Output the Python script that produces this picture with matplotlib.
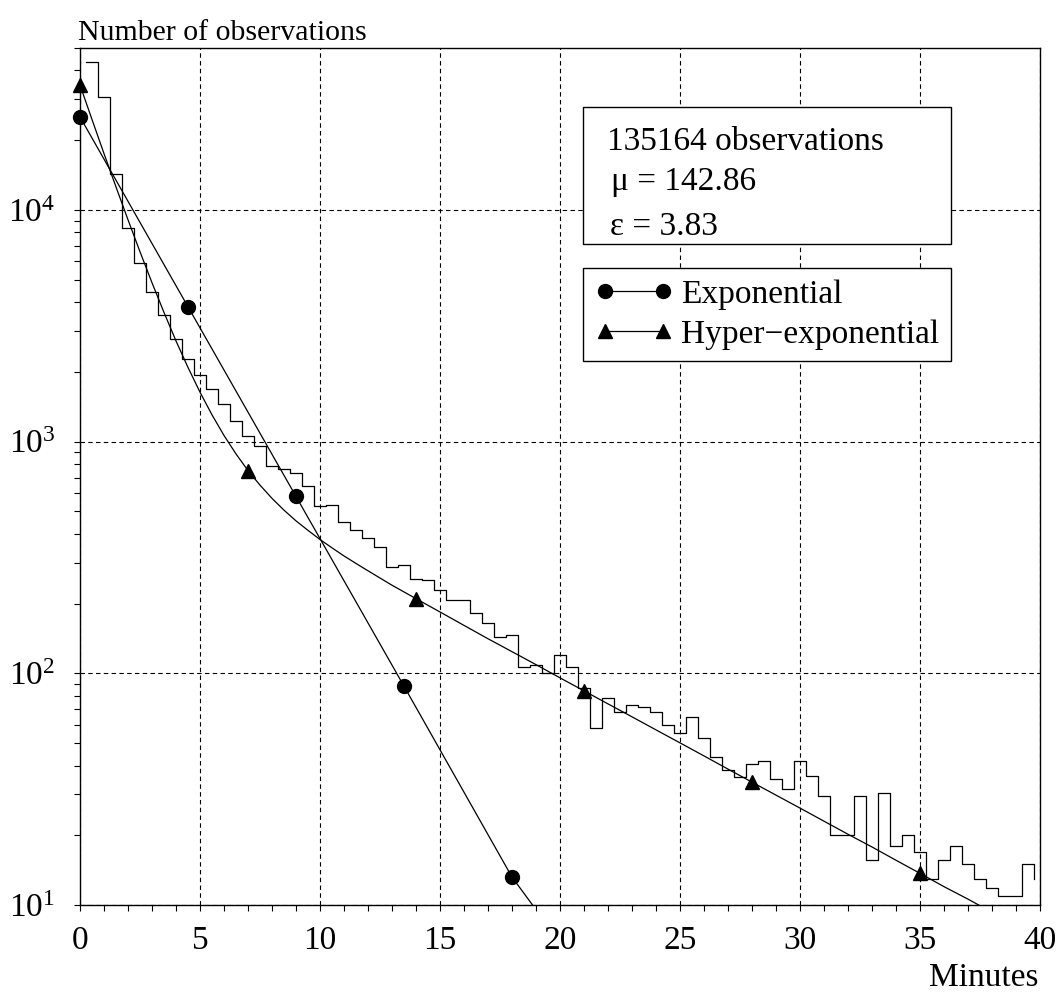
import matplotlib
matplotlib.use("Agg")
import matplotlib.pyplot as plt
import numpy as np
from matplotlib.patches import Rectangle
from matplotlib.ticker import MultipleLocator, LogLocator, NullFormatter


# histogram of observations per half-minute bin (first bin starts at 0.25 min)
bin_start = 0.25
bin_width = 0.5
hist_counts = [
    43700, 30800, 14300, 8390, 5890, 4440, 3520, 2770, 2280, 1930,
    1690, 1450, 1230, 1060, 960, 783, 760, 735, 641, 525,
    533, 449, 416, 382, 352, 289, 293, 256, 252, 228,
    207, 208, 183, 165, 143, 147, 107, 109, 100, 120,
    106, 86.5, 57.8, 78, 68.1, 72.8, 71.8, 68.1, 59.7, 55.3,
    65, 52.6, 43.6, 38.1, 35.7, 40.8, 41.8, 35, 31.7, 41.8,
    36.1, 29.6, 20, 20, 29.6, 15.7, 30.5, 17.9, 20, 16.9,
    12.9, 15.7, 17.9, 15.0, 12.9, 11.8, 10.9, 10.9, 15.0,
]
hist_tail = 12.9

# exponential fit, read at the marker positions (last point is past the axis)
exp_minutes = [0, 4.5, 9, 13.5, 18, 20]
exp_values = [25200, 3820, 580, 88, 13.2, 6.9]

# hyper-exponential fit, read every half minute up to 12, then every minute
hyp_minutes = [
    0, 0.5, 1, 1.5, 2, 2.5, 3, 3.5, 4, 4.5, 5, 5.5, 6, 6.5, 7, 7.5, 8, 8.5,
    9, 9.5, 10, 10.5, 11, 11.5, 12, 13, 14, 15, 16, 17, 18, 19, 20, 21, 22,
    23, 24, 25, 26, 27, 28, 29, 30, 31, 32, 33, 34, 35, 36, 37, 38,
]
hyp_values = [
    34600, 24570, 17500, 12570, 9070, 6600, 4850, 3610, 2720, 2090,
    1635, 1305, 1063, 885, 750, 649, 569, 506, 455, 414,
    378, 348, 321, 298, 277, 240, 210, 184, 161, 141,
    124, 109, 95.6, 84, 73.8, 64.9, 57, 50.1, 44, 38.6,
    33.9, 29.8, 26.2, 23, 20.2, 17.8, 15.6, 13.7, 12.0, 10.6, 9.3,
]
hyp_marker_minutes = [0, 7, 14, 21, 28, 35]

x_ticks = [0, 5, 10, 15, 20, 25, 30, 35, 40]
y_ticks = [10, 100, 1000, 10000]
y_tick_labels = [r"$10^{1}$", r"$10^{2}$", r"$10^{3}$", r"$10^{4}$"]
info_lines = ["135164 observations", "\u03bc = 142.86", "\u03b5 = 3.83"]

plt.rcParams["font.family"] = ["Liberation Serif", "DejaVu Serif"]
plt.rcParams["mathtext.fontset"] = "custom"
plt.rcParams["mathtext.rm"] = "Liberation Serif"
plt.rcParams["mathtext.it"] = "Liberation Serif:italic"

fig = plt.figure(figsize=(10.58, 9.94), dpi=100)
ax = fig.add_axes([80 / 1058, 89 / 994, 960 / 1058, 857 / 994])

edges = bin_start + bin_width * np.arange(len(hist_counts) + 1)
xs = np.append(edges, edges[-1])
ys = hist_counts + [hist_counts[-1], hist_tail]
ax.plot(xs, ys, drawstyle="steps-post", color="black", lw=0.9, zorder=2)

# fitted curves: lines clipped to the axes, markers not
exp_line, = ax.plot(exp_minutes, exp_values, color="black", lw=0.9, zorder=3)
exp_mark, = ax.plot(exp_minutes[:5], exp_values[:5], ls="none", color="black",
                    marker="o", ms=10, clip_on=False, zorder=4)
hyp_line, = ax.plot(hyp_minutes, hyp_values, color="black", lw=0.9, zorder=3)
hyp_marks = [hyp_values[hyp_minutes.index(m)] for m in hyp_marker_minutes]
hyp_mark, = ax.plot(hyp_marker_minutes, hyp_marks, ls="none", color="black",
                    marker="^", ms=10, clip_on=False, zorder=4)

ax.set_yscale("log")
ax.set_xlim(0, 40)
ax.set_ylim(10, 5e4)
ax.set_xticks(x_ticks)
ax.set_xticklabels([str(t) for t in x_ticks])
ax.set_yticks(y_ticks)
ax.set_yticklabels(y_tick_labels)
ax.xaxis.set_minor_locator(MultipleLocator(1))
ax.yaxis.set_minor_locator(LogLocator(base=10, subs=np.arange(2, 10)))
ax.yaxis.set_minor_formatter(NullFormatter())
ax.tick_params(which="both", direction="out", length=4, width=0.8, labelsize=24)
ax.tick_params(axis="x", pad=11)
ax.tick_params(axis="y", pad=14)
for sp in ax.spines.values():
    sp.set_linewidth(1.0)

ax.grid(True, which="major", color="black", lw=0.8, linestyle=(0, (4, 3)))
ax.set_axisbelow(True)

# info box
ax.add_patch(Rectangle((0.524, 0.7713), 0.383, 0.1602, transform=ax.transAxes,
                       facecolor="white", edgecolor="black", lw=1.0, zorder=5))
for txt, xf, yf in zip(info_lines, [0.5486, 0.553, 0.552], [0.881, 0.8343, 0.7818]):
    ax.text(xf, yf, txt, transform=ax.transAxes, fontsize=24, va="baseline",
            ha="left", zorder=6)

leg = ax.legend([(exp_line, exp_mark), (hyp_line, hyp_mark)],
                ["Exponential", "Hyper\u2212exponential"],
                loc="upper left", bbox_to_anchor=(0.5243, 0.743), borderaxespad=0,
                fontsize=24, numpoints=2, handlelength=2.35, handletextpad=0.25,
                borderpad=0.34, labelspacing=0.28, fancybox=False, framealpha=1,
                edgecolor="black")
leg.get_frame().set_linewidth(1.0)
leg.set_zorder(6)

fig.text(78 / 1058, (994 - 40) / 994, "Number of observations", fontsize=21.5,
         ha="left", va="baseline")
fig.text(1038 / 1058, (994 - 986) / 994, "Minutes", fontsize=24,
         ha="right", va="baseline")

fig.savefig("out.png", dpi=100)
